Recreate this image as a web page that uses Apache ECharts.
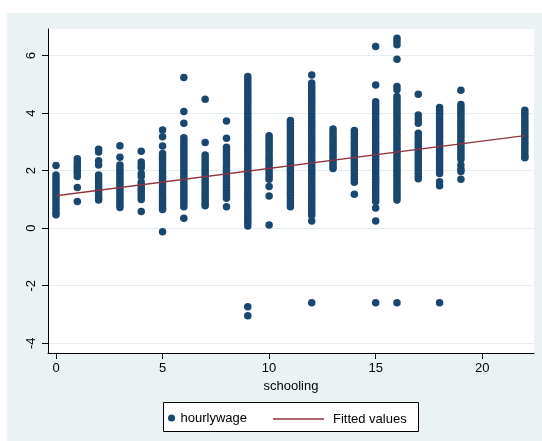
<!DOCTYPE html>
<html>
<head>
<meta charset="utf-8">
<script src="https://cdn.jsdelivr.net/npm/echarts@6/dist/echarts.min.js"></script>
<style>
html,body{margin:0;padding:0;background:#fff;}
#chart{width:542px;height:441px;}
</style>
</head>
<body>
<div id="chart"></div>
<script>
// ---- data ----
const schooling = [0,1,2,3,4,5,6,7,8,9,10,11,12,13,14,15,16,17,18,19,22];
const wage0 = [2.18,1.85,1.75,1.65,1.55,1.45,1.35,1.25,1.15,1.05,0.95,0.85,0.75,0.65,0.55,0.47];
const wage1 = [2.42,2.3,2.2,2.1,2.0,1.9,1.8,1.42,0.93];
const wage2 = [2.75,2.65,2.35,2.2,1.85,1.75,1.65,1.55,1.45,1.35,1.25,1.15,1.05,0.98];
const wage3 = [2.87,2.47,2.2,2.1,2.0,1.9,1.8,1.7,1.6,1.5,1.4,1.3,1.2,1.1,1.0,0.9,0.8,0.72];
const wage4 = [2.68,2.3,2.2,2.1,1.9,1.8,1.6,1.5,1.4,1.3,1.2,1.1,1.0,0.58];
const wage5 = [3.42,3.18,2.86,2.6,2.5,2.4,2.3,2.2,2.1,2.0,1.9,1.8,1.7,1.6,1.5,1.4,1.3,1.2,1.1,1.0,0.9,0.8,0.7,0.65,-0.12];
const wage6 = [5.24,4.06,3.65,3.15,3.05,2.95,2.85,2.75,2.65,2.55,2.45,2.35,2.25,2.15,2.05,1.95,1.85,1.75,1.65,1.55,1.45,1.35,1.25,1.15,1.05,0.95,0.85,0.75,0.35];
const wage7 = [4.49,2.98,2.55,2.45,2.35,2.25,2.15,2.05,1.95,1.85,1.75,1.65,1.55,1.45,1.35,1.25,1.15,1.05,0.95,0.85,0.78];
const wage8 = [3.73,3.13,2.82,2.72,2.62,2.52,2.42,2.32,2.22,2.12,2.02,1.92,1.82,1.72,1.62,1.52,1.42,1.32,1.22,1.12,1.04,0.75];
const wage9 = [5.28,5.18,5.08,4.98,4.88,4.78,4.68,4.58,4.48,4.38,4.28,4.18,4.08,3.98,3.88,3.78,3.68,3.58,3.48,3.38,3.28,3.18,3.08,2.98,2.88,2.78,2.68,2.58,2.48,2.38,2.28,2.18,2.08,1.98,1.88,1.78,1.68,1.58,1.48,1.38,1.28,1.18,1.08,0.98,0.88,0.78,0.68,0.58,0.48,0.38,0.28,0.18,0.08,-2.73,-3.04];
const wage10 = [3.22,3.12,3.02,2.92,2.82,2.72,2.62,2.5,2.4,2.3,2.2,2.1,2.0,1.9,1.8,1.7,1.45,1.12,0.11];
const wage11 = [3.75,3.65,3.55,3.45,3.35,3.25,3.15,3.05,2.95,2.85,2.75,2.65,2.55,2.45,2.35,2.25,2.15,2.05,1.95,1.85,1.75,1.65,1.55,1.45,1.35,1.25,1.15,1.05,0.95,0.85,0.75];
const wage12 = [5.33,5.05,4.95,4.85,4.75,4.65,4.55,4.45,4.35,4.25,4.15,4.05,3.95,3.85,3.75,3.65,3.55,3.45,3.35,3.25,3.15,3.05,2.95,2.85,2.75,2.65,2.55,2.45,2.35,2.25,2.15,2.05,1.95,1.85,1.75,1.65,1.55,1.45,1.35,1.25,1.15,1.05,0.95,0.85,0.75,0.65,0.55,0.45,0.25,-2.59];
const wage13 = [3.45,3.35,3.25,3.15,3.05,2.95,2.85,2.75,2.65,2.55,2.45,2.35,2.25,2.15,2.08];
const wage14 = [3.4,3.3,3.2,3.1,3.0,2.9,2.8,2.7,2.6,2.5,2.4,2.3,2.2,2.1,2.0,1.9,1.8,1.7,1.6,1.18];
const wage15 = [6.32,4.98,4.4,4.3,4.2,4.1,4.0,3.9,3.8,3.7,3.6,3.5,3.4,3.3,3.2,3.1,3.0,2.9,2.8,2.7,2.6,2.5,2.4,2.3,2.2,2.1,2.0,1.9,1.8,1.7,1.6,1.5,1.4,1.3,1.2,1.1,1.0,0.93,0.7,0.25,-2.59];
const wage16 = [6.61,6.5,6.38,5.88,4.93,4.82,4.58,4.48,4.38,4.28,4.18,4.08,3.98,3.88,3.78,3.68,3.58,3.48,3.38,3.28,3.18,3.08,2.98,2.88,2.78,2.68,2.58,2.48,2.38,2.28,2.18,2.08,1.98,1.88,1.78,1.68,1.58,1.48,1.38,1.28,1.18,1.08,0.98,-2.59];
const wage17 = [4.66,3.94,3.8,3.65,3.3,3.2,3.1,3.0,2.9,2.8,2.7,2.6,2.5,2.4,2.3,2.2,2.1,2.0,1.9,1.8,1.72];
const wage18 = [4.2,4.1,4.0,3.9,3.8,3.7,3.6,3.5,3.4,3.3,3.2,3.1,3.0,2.9,2.8,2.7,2.6,2.5,2.4,2.3,2.2,2.1,2.0,1.9,1.62,1.48,-2.59];
const wage19 = [4.8,4.3,4.2,4.1,4.0,3.9,3.8,3.7,3.6,3.5,3.4,3.3,3.2,3.1,3.0,2.9,2.8,2.7,2.6,2.5,2.4,2.2,2.05,1.97,1.7];
const wage22 = [4.1,4.0,3.9,3.8,3.7,3.6,3.5,3.4,3.3,3.2,3.1,3.0,2.9,2.8,2.7,2.6,2.5,2.45];
const wageColumns = [wage0,wage1,wage2,wage3,wage4,wage5,wage6,wage7,wage8,wage9,wage10,wage11,wage12,wage13,wage14,wage15,wage16,wage17,wage18,wage19,wage22];

const fittedX = [0, 22];
const fittedY = [1.13, 3.22];

const xTicks = [0, 5, 10, 15, 20];
const yTicks = [-4, -2, 0, 2, 4, 6];

// ---- build ----
const scatterData = [];
schooling.forEach((s, i) => { wageColumns[i].forEach(w => scatterData.push([s, w])); });
const fittedData = fittedX.map((x, i) => [x, fittedY[i]]);

const FONT = 'Liberation Sans, Arial, sans-serif';
const chart = echarts.init(document.getElementById('chart'), null, {renderer: 'canvas'});
chart.setOption({
  animation: false,
  backgroundColor: '#ffffff',
  graphic: [
    {type: 'rect', z: -100, silent: true, shape: {x: 7, y: 13, width: 535, height: 428}, style: {fill: '#eaf2f3'}},
    {type: 'rect', z: 3, silent: true, shape: {x: 163.5, y: 402.5, width: 255, height: 29}, style: {fill: '#ffffff', stroke: '#000', lineWidth: 1}}
  ],
  grid: {left: 48, top: 29, right: 8, bottom: 88, show: true, backgroundColor: '#ffffff', borderWidth: 0},
  xAxis: {
    type: 'value', min: -0.375, max: 22.43,
    name: 'schooling', nameLocation: 'middle', nameGap: 26,
    nameTextStyle: {fontFamily: FONT, fontSize: 13, color: '#000'},
    axisLine: {show: true, onZero: false, lineStyle: {color: '#000', width: 1}},
    axisTick: {show: true, length: 6, customValues: xTicks, lineStyle: {color: '#000'}},
    axisLabel: {customValues: xTicks, margin: 9, fontFamily: FONT, fontSize: 13, color: '#000'},
    splitLine: {show: false}
  },
  yAxis: {
    type: 'value', min: -4.34, max: 6.93,
    axisLine: {show: true, onZero: false, lineStyle: {color: '#000', width: 1}},
    axisTick: {show: true, length: 6, customValues: yTicks, lineStyle: {color: '#000'}},
    axisLabel: {customValues: yTicks, rotate: 90, margin: 10, fontFamily: FONT, fontSize: 13, color: '#000'},
    splitLine: {show: true, lineStyle: {color: '#e4eef0', width: 1.2}}
  },
  legend: [
    {data: [{name: 'hourlywage', icon: 'circle'}], left: 168, top: 411.5, padding: 0, itemWidth: 8, itemHeight: 7,
     textStyle: {fontFamily: FONT, fontSize: 13, color: '#000'}, z: 5},
    {data: [{name: 'Fitted values', icon: 'rect', itemStyle: {color: '#90353b'}}], left: 273, top: 412.5, padding: 0, itemWidth: 51, itemHeight: 1.4,
     textStyle: {fontFamily: FONT, fontSize: 13, color: '#000', padding: [0, 0, 0, 4]}, z: 5}
  ],
  series: [
    {name: 'hourlywage', type: 'scatter', data: scatterData, symbol: 'circle', symbolSize: 7.5,
     itemStyle: {color: '#1a476f', opacity: 1}, z: 2},
    {name: 'Fitted values', type: 'line', data: fittedData, symbol: 'none', showSymbol: false,
     lineStyle: {color: '#90353b', width: 1.3}, itemStyle: {color: '#90353b'}, z: 3}
  ]
});
</script>
</body>
</html>
